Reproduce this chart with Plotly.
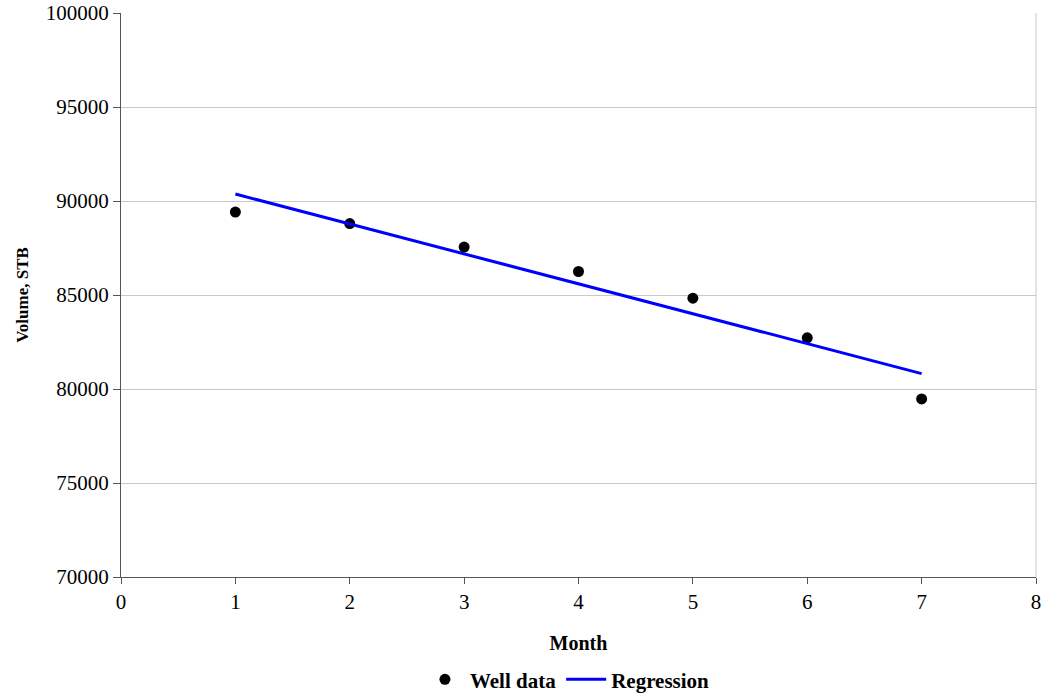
import plotly.graph_objects as go

# Data
months = [1, 2, 3, 4, 5, 6, 7]
well_volume = [89410, 88800, 87550, 86250, 84830, 82720, 79470]
reg_months = [1, 7]
reg_volume = [90370, 80820]

x_ticks = [0, 1, 2, 3, 4, 5, 6, 7, 8]
y_ticks = [70000, 75000, 80000, 85000, 90000, 95000, 100000]

FONT = "Liberation Serif, Times New Roman, serif"

fig = go.Figure()
fig.add_trace(go.Scatter(
    x=months, y=well_volume, mode="markers", name="Well data",
    marker=dict(color="black", size=11, symbol="circle"),
))
fig.add_trace(go.Scatter(
    x=reg_months, y=reg_volume, mode="lines", name="Regression",
    line=dict(color="#0000ff", width=3),
))

fig.update_layout(
    width=1045, height=700,
    margin=dict(l=121, r=9, t=13, b=123, autoexpand=False),
    paper_bgcolor="white", plot_bgcolor="white",
    font=dict(family=FONT, size=21, color="black"),
    showlegend=True,
    legend=dict(
        orientation="h", xref="container", yref="container",
        x=0.543, xanchor="center", y=0.029, yanchor="middle",
        font=dict(family=FONT, size=21, color="black", weight="bold"),
        itemwidth=40, tracegroupgap=0, bgcolor="rgba(0,0,0,0)",
    ),
    xaxis=dict(
        range=[0, 8], tickvals=x_ticks, ticktext=[str(v) for v in x_ticks],
        showgrid=False, zeroline=False,
        showline=True, linecolor="#555555", linewidth=1,
        ticks="outside", ticklen=6, tickcolor="#555555",
        tickfont=dict(family=FONT, size=21, color="black"),
        title=dict(text="Month", standoff=22,
                   font=dict(family=FONT, size=20, color="black", weight="bold")),
    ),
    yaxis=dict(
        range=[70000, 100000], tickvals=y_ticks, ticktext=[str(v) for v in y_ticks],
        showgrid=True, gridcolor="#c8c8c8", gridwidth=1, zeroline=False,
        showline=True, linecolor="#555555", linewidth=1,
        ticks="outside", ticklen=7, tickcolor="#555555",
        tickfont=dict(family=FONT, size=21, color="black"),
        title=dict(text="Volume, STB", standoff=12,
                   font=dict(family=FONT, size=17, color="black", weight="bold")),
    ),
    shapes=[dict(type="line", xref="paper", yref="paper", x0=1, x1=1, y0=0, y1=1,
                 line=dict(color="#c8c8c8", width=1))],
)

fig.write_html("out.html")
